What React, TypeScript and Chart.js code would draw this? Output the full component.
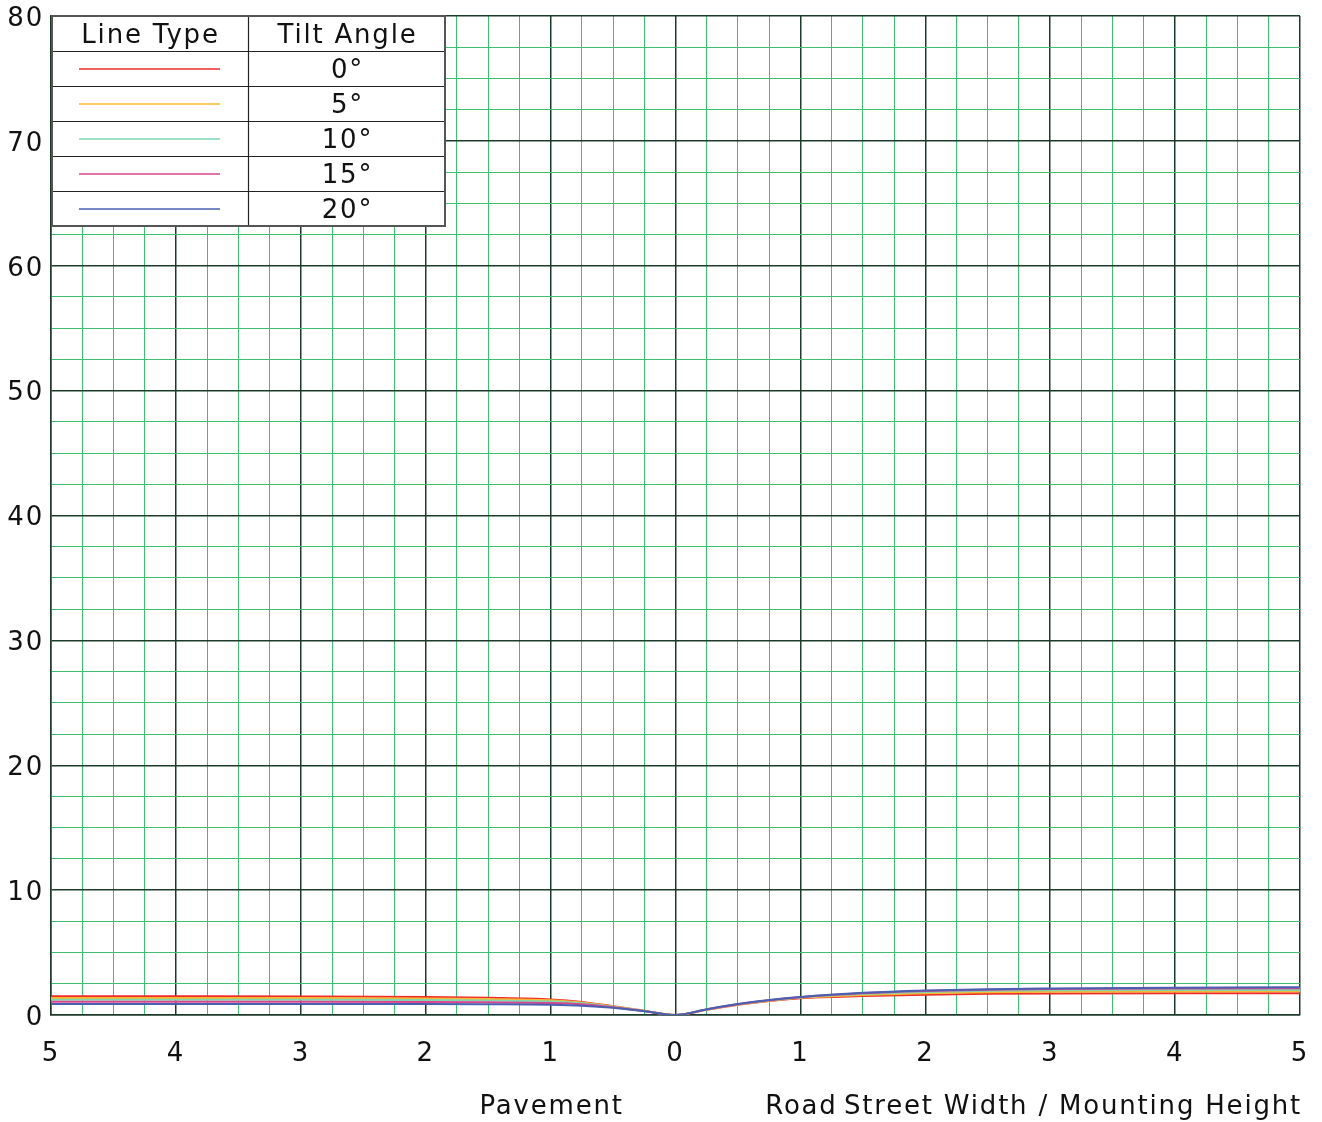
import React, { useEffect, useRef } from 'react';
import { Chart, registerables } from 'chart.js';

Chart.register(...registerables);

// ---- data ----
const positions = [-5, -4, -3, -2, -1.5, -1, -0.75, -0.5, -0.25, 0, 0.25, 0.5, 0.75, 1, 1.5, 2, 2.5, 3, 4, 5];
const tilt0 = [1.5, 1.5, 1.49, 1.45, 1.38, 1.25, 1.05, 0.7, 0.34, 0, 0.42, 0.82, 1.12, 1.35, 1.52, 1.63, 1.7, 1.73, 1.74, 1.74];
const tilt5 = [1.36, 1.36, 1.36, 1.33, 1.28, 1.18, 1.0, 0.68, 0.33, 0, 0.43, 0.84, 1.15, 1.38, 1.6, 1.74, 1.82, 1.86, 1.89, 1.9];
const tilt10 = [1.22, 1.22, 1.22, 1.2, 1.16, 1.08, 0.94, 0.65, 0.32, 0, 0.44, 0.86, 1.17, 1.41, 1.68, 1.85, 1.94, 1.98, 2.0, 2.01];
const tilt15 = [1.06, 1.06, 1.06, 1.05, 1.02, 0.96, 0.86, 0.62, 0.31, 0, 0.45, 0.87, 1.19, 1.43, 1.74, 1.92, 2.03, 2.08, 2.12, 2.14];
const tilt20 = [0.88, 0.88, 0.88, 0.88, 0.86, 0.82, 0.75, 0.58, 0.3, 0, 0.46, 0.88, 1.2, 1.45, 1.78, 1.97, 2.07, 2.12, 2.18, 2.22];

const seriesValues = [tilt0, tilt5, tilt10, tilt15, tilt20];
const seriesLabels = ['0°', '5°', '10°', '15°', '20°'];
const seriesColors = ['#ee2a2a', '#f6b731', '#7fd6b0', '#d9458f', '#4a5fb0'];

const xTickLabels = ['5', '4', '3', '2', '1', '0', '1', '2', '3', '4', '5'];
const yTickLabels = ['0', '10', '20', '30', '40', '50', '60', '70', '80'];

const legendHeaders = ['Line Type', 'Tilt Angle'];
const pavementLabel = 'Pavement';
const roadLabel = 'Road';
const axisTitle = 'Street Width / Mounting Height';

const FONT = "'DejaVu Sans', Verdana, sans-serif";
const MAJOR = '#1d3b2a';
const MINOR = '#3cc070';
const SPACING = '1.8px';

const spacingPlugin = {
  id: 'spacing',
  beforeUpdate(chart: any) {
    chart.ctx.letterSpacing = SPACING;
  },
  beforeLayout(chart: any) {
    chart.ctx.letterSpacing = SPACING;
  },
  beforeDraw(chart: any) {
    chart.ctx.letterSpacing = SPACING;
  },
};

const overlayPlugin = {
  id: 'overlay',
  afterDraw(chart: any) {
    const ctx = chart.ctx;
    const area = chart.chartArea;
    const xs = chart.scales.x;
    ctx.save();
    ctx.letterSpacing = SPACING;
    // bottom texts
    ctx.fillStyle = '#111';
    ctx.font = `26px ${FONT}`;
    ctx.textBaseline = 'middle';
    ctx.textAlign = 'center';
    const ty = area.bottom + 92;
    ctx.fillText(pavementLabel, xs.getPixelForValue(-1) + 1, ty);
    ctx.fillText(roadLabel, xs.getPixelForValue(1) + 1, ty);
    ctx.textAlign = 'right';
    ctx.fillText(axisTitle, area.right + 2, ty);

    // legend table
    const left = area.left;
    const top = area.top;
    const w = 394;
    const colSplit = 197;
    const rowH = 35;
    const rows = seriesLabels.length + 1;
    const h = rowH * rows;
    ctx.fillStyle = '#ffffff';
    ctx.fillRect(left, top, w, h);
    ctx.strokeStyle = '#222';
    ctx.lineWidth = 1.2;
    for (let r = 1; r < rows; r++) {
      const y = Math.round(top + r * rowH) + 0.5;
      ctx.beginPath();
      ctx.moveTo(left, y);
      ctx.lineTo(left + w, y);
      ctx.stroke();
    }
    ctx.beginPath();
    ctx.moveTo(left + colSplit + 0.5, top);
    ctx.lineTo(left + colSplit + 0.5, top + h);
    ctx.stroke();
    ctx.strokeStyle = '#555';
    ctx.lineWidth = 2;
    ctx.strokeRect(left + 1, top, w - 1, h);

    ctx.fillStyle = '#111';
    ctx.font = `26px ${FONT}`;
    ctx.textAlign = 'center';
    ctx.textBaseline = 'middle';
    ctx.fillText(legendHeaders[0], left + colSplit / 2 + 1, top + rowH / 2 + 3);
    ctx.fillText(legendHeaders[1], left + colSplit + (w - colSplit) / 2 + 1, top + rowH / 2 + 3);
    seriesLabels.forEach((lab, i) => {
      const cy = top + rowH * (i + 1) + rowH / 2;
      ctx.strokeStyle = seriesColors[i];
      ctx.lineWidth = 1.6;
      ctx.beginPath();
      ctx.moveTo(left + 28, Math.round(cy));
      ctx.lineTo(left + 169, Math.round(cy));
      ctx.stroke();
      ctx.fillStyle = '#111';
      ctx.fillText(lab, left + colSplit + (w - colSplit) / 2 + 1, cy + 3);
    });
    ctx.restore();
  },
};

export default function App() {
  const ref = useRef<HTMLCanvasElement | null>(null);
  useEffect(() => {
    if (!ref.current) return;
    const datasets = seriesValues.map((vals, i) => ({
      label: seriesLabels[i],
      data: positions.map((p, j) => ({ x: p, y: vals[j] })),
      borderColor: seriesColors[i],
      backgroundColor: seriesColors[i],
      borderWidth: 2,
      pointRadius: 0,
      cubicInterpolationMode: 'monotone' as const,
      fill: false,
      order: seriesValues.length - i,
    }));
    const chart = new Chart(ref.current, {
      type: 'line',
      data: { datasets },
      plugins: [spacingPlugin, overlayPlugin],
      options: {
        animation: false,
        responsive: false,
        maintainAspectRatio: false,
        devicePixelRatio: 1,
        layout: { padding: { top: 16, right: 22, left: 0, bottom: 0 } },
        plugins: { legend: { display: false }, tooltip: { enabled: false } },
        scales: {
          x: {
            type: 'linear',
            min: -5,
            max: 5,
            afterBuildTicks: (scale: any) => {
              const t = [];
              for (let k = 0; k <= 40; k++) t.push({ value: -5 + k * 0.25 });
              scale.ticks = t;
            },
            ticks: {
              autoSkip: false,
              maxRotation: 0,
              padding: 24,
              color: '#111',
              font: { size: 26, family: FONT },
              callback: (v: any) => {
                const n = Number(v);
                if (Math.abs(n - Math.round(n)) > 1e-6) return '';
                return xTickLabels[Math.round(n) + 5];
              },
            },
            grid: {
              drawTicks: false,
              color: (c: any) => (Math.abs(c.tick.value - Math.round(c.tick.value)) < 1e-6 ? MAJOR : MINOR),
              lineWidth: (c: any) => (Math.abs(c.tick.value - Math.round(c.tick.value)) < 1e-6 ? 1.5 : 1),
            },
            border: { display: true, color: MAJOR, width: 1.5 },
            afterFit: (scale: any) => {
              scale.height = 107;
              scale.paddingLeft = 0;
              scale.paddingRight = 0;
            },
          },
          y: {
            type: 'linear',
            min: 0,
            max: 80,
            afterBuildTicks: (scale: any) => {
              const t = [];
              for (let k = 0; k <= 32; k++) t.push({ value: k * 2.5 });
              scale.ticks = t;
            },
            ticks: {
              autoSkip: false,
              padding: 7,
              labelOffset: 3,
              color: '#111',
              font: { size: 26, family: FONT },
              callback: (v: any) => {
                const n = Number(v);
                if (Math.abs(n / 10 - Math.round(n / 10)) > 1e-6) return '';
                return yTickLabels[Math.round(n / 10)];
              },
            },
            grid: {
              drawTicks: false,
              color: (c: any) => (Math.abs(c.tick.value / 10 - Math.round(c.tick.value / 10)) < 1e-6 ? MAJOR : MINOR),
              lineWidth: (c: any) => (Math.abs(c.tick.value / 10 - Math.round(c.tick.value / 10)) < 1e-6 ? 1.5 : 1),
            },
            border: { display: true, color: MAJOR, width: 1.5 },
            afterFit: (scale: any) => {
              scale.width = 51;
              scale.paddingTop = 0;
              scale.paddingBottom = 0;
            },
          },
        },
      },
    } as any);
    return () => chart.destroy();
  }, []);
  return (
    <div style={{ position: 'absolute', left: 0, top: 0, width: 1322, height: 1122, background: '#fff' }}>
      <canvas ref={ref} width={1322} height={1122} style={{ width: 1322, height: 1122, display: 'block' }} />
    </div>
  );
}
